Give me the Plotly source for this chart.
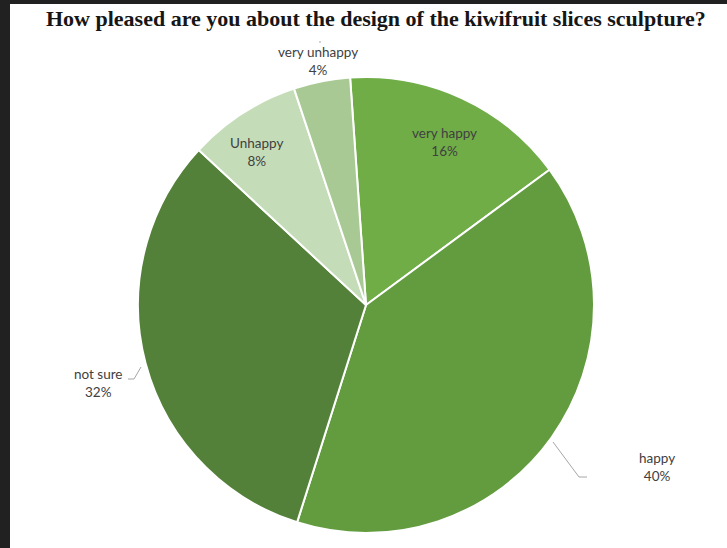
import plotly.graph_objects as go

# Survey responses (percent), listed clockwise from the top
labels = ["very happy", "happy", "not sure", "Unhappy", "very unhappy"]
values = [16, 40, 32, 8, 4]
colors = ["#70AD47", "#629C3F", "#548139", "#C5DCB9", "#A8C993"]

W, H = 727, 548
cx, cy, r = 366, 305, 228


def px(x):
    return x / W


def py(y):
    return 1 - y / H


fig = go.Figure(
    go.Pie(
        labels=labels,
        values=values,
        sort=False,
        direction="clockwise",
        rotation=-4,
        marker=dict(colors=colors, line=dict(color="white", width=2)),
        textinfo="none",
        hoverinfo="label+percent",
        showlegend=False,
        domain=dict(x=[px(cx - r), px(cx + r)], y=[py(cy + r), py(cy - r)]),
    )
)

# label positions (pixels) for each slice
label_pos = {
    "very happy": (444, 142),
    "happy": (657, 467),
    "not sure": (98, 383),
    "Unhappy": (256, 152),
    "very unhappy": (318, 61),
}
annotations = []
for lab, val in zip(labels, values):
    x, y = label_pos[lab]
    annotations.append(
        dict(
            x=px(x), y=py(y), xref="paper", yref="paper",
            text=f"{lab}<br>{val}%", showarrow=False,
            font=dict(family="Lato, Open Sans, sans-serif", size=13.5, color="#404040"),
            align="center", xanchor="center", yanchor="middle",
        )
    )

annotations.append(
    dict(
        x=px(376), y=py(18), xref="paper", yref="paper",
        text="<b>How pleased are you about the design of the kiwifruit slices sculpture?</b>",
        showarrow=False, xanchor="center", yanchor="middle",
        font=dict(family="Liberation Serif, Times New Roman, serif", size=22, color="#161616"),
    )
)

leader = dict(color="#A6A6A6", width=1)


def path(points):
    d = "M " + " L ".join(f"{px(x)},{py(y)}" for x, y in points)
    return dict(type="path", xref="paper", yref="paper", path=d, line=leader)


shapes = [
    # dark frame strips along the top and left
    dict(type="rect", xref="paper", yref="paper", x0=0, x1=px(10), y0=0, y1=1,
         fillcolor="#212121", line=dict(width=0), layer="below"),
    dict(type="rect", xref="paper", yref="paper", x0=0, x1=1, y0=py(4), y1=1,
         fillcolor="#212121", line=dict(width=0), layer="below"),
    # leader lines for the outside labels
    path([(553, 442), (579, 477), (587, 477)]),
    path([(128, 379), (134, 379), (141, 367)]),
    path([(320, 41), (320, 43)]),
]

fig.update_layout(
    width=W, height=H,
    margin=dict(l=0, r=0, t=0, b=0),
    paper_bgcolor="white", plot_bgcolor="white",
    annotations=annotations, shapes=shapes,
)

fig.write_html("out.html")
